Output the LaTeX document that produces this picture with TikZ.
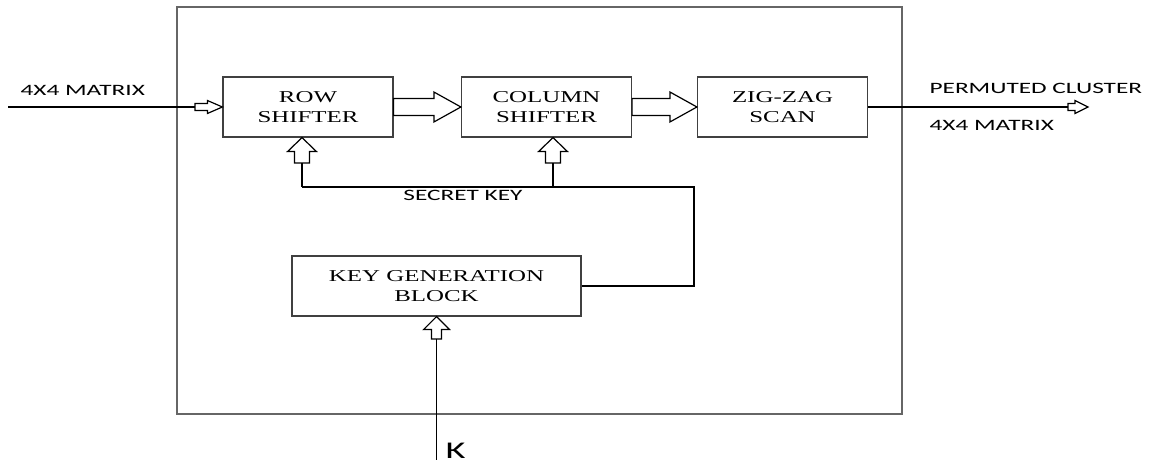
\documentclass[tikz,border=0pt]{standalone}
\usepackage{fontspec}
\newfontfamily\boxfont[FakeStretch=1.5]{Liberation Serif}
\newfontfamily\labfont[FakeStretch=1.6]{Carlito}
\usetikzlibrary{calc}
\newcommand{\blockright}[5]{\draw[fill=white]($(#1)+(0,-#3)$)--($(#2)+(-#5,-#3)$)--($(#2)+(-#5,-#4)$)--(#2)--($(#2)+(-#5,#4)$)--($(#2)+(-#5,#3)$)--($(#1)+(0,#3)$)--cycle;}
\newcommand{\blockup}[5]{\draw[fill=white]($(#1)+(-#3,0)$)--($(#2)+(-#3,#5)$)--($(#2)+(-#4,#5)$)--(#2)--($(#2)+(#4,#5)$)--($(#2)+(#3,#5)$)--($(#1)+(#3,0)$)--cycle;}
\tikzset{blk/.style={draw=black!75,line width=.6pt,fill=white,minimum width=85pt,minimum height=30pt,align=center,inner sep=0pt,font=\boxfont\fontsize{8.3}{10}\selectfont},
lab/.style={font=\labfont\fontsize{7.9}{9}\selectfont,inner sep=0pt}}
\begin{document}
\begin{tikzpicture}[x=.5pt,y=-.5pt,line width=.6pt]
\useasboundingbox(0,0)rectangle(1151,464);
\draw[gray!80!black,line width=1pt](177,7)rectangle(902,414);
\node[blk](row)at(308,107){ROW\\SHIFTER};\node[blk](col)at(546.5,107){COLUMN\\SHIFTER};\node[blk](zig)at(782.5,107){ZIG-ZAG\\SCAN};
\node[blk,minimum width=144.5pt](key)at(436.5,286){KEY GENERATION\\BLOCK};
\node[lab,anchor=west](inl)at(20,90){4X4 MATRIX};\node[lab,anchor=west](outl)at(929,88){PERMUTED CLUSTER};\node[lab,anchor=west](outm)at(929,125){4X4 MATRIX};
\node[lab](skey)at(463,195){SECRET KEY};\node[lab,font=\labfont\fontsize{12}{14}\selectfont,anchor=west](kl)at(445,451){K};
\coordinate(in)at(8,107);\coordinate(ia)at(195,107);\coordinate(oa)at(1068,107);\coordinate(ot)at(1088,107);
\draw(in)--(ia);\blockright{ia}{row.west}{3.5}{6.5}{15}
\draw(zig.east)--(oa);\blockright{oa}{ot}{3.5}{6.5}{13}
\blockright{row.east}{col.west}{8.5}{15}{27}\blockright{col.east}{zig.west}{8.5}{15}{27}
\coordinate(kr)at(302,187);\coordinate(kc)at(553,187);\coordinate(kt)at(694,187);
\coordinate(sr)at(302,163);\coordinate(sc)at(553,163);\coordinate(tr)at(row.south-|sr);\coordinate(tc)at(col.south-|sc);
\draw(kr)--(kt)--(kt|-key.east)--(key.east);\draw(kr)--(sr);\draw(kc)--(sc);
\blockup{sr}{tr}{7.5}{14.5}{14}\blockup{sc}{tc}{7.5}{14.5}{14}
\coordinate(kin)at(436.5,460);\coordinate(ks)at(436.5,339);
\draw(kin)--(ks);\blockup{ks}{key.south}{5}{13}{13}
\end{tikzpicture}
\end{document}
